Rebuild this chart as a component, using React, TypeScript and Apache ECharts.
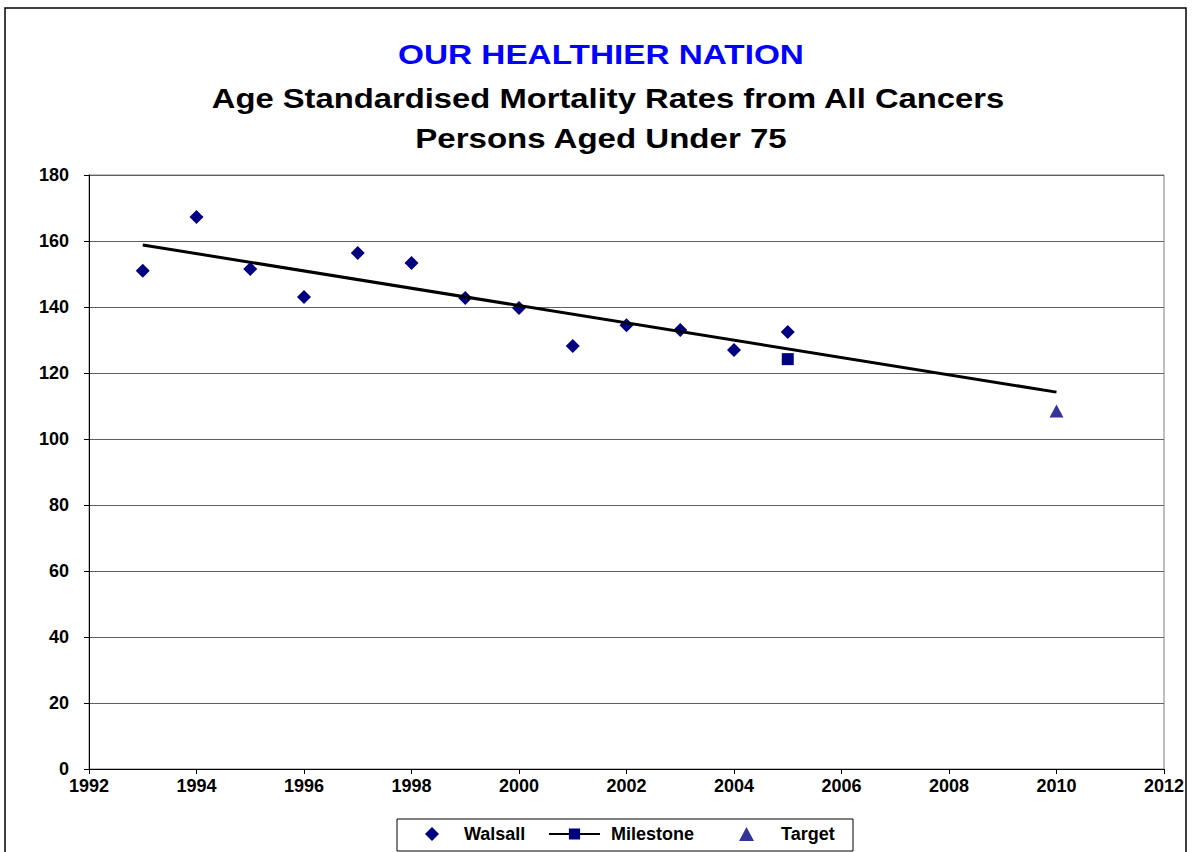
import React, { useEffect, useRef } from "react";
import * as echarts from "echarts";

const years = [1993, 1994, 1995, 1996, 1997, 1998, 1999, 2000, 2001, 2002, 2003, 2004, 2005];
const walsall = [151, 167.3, 151.5, 143, 156.4, 153.3, 142.7, 139.7, 128.2, 134.5, 133, 127, 132.4];
const milestoneYear = [2005];
const milestone = [124.2];
const targetYear = [2010];
const target = [108.5];
const trendYears = [1993, 2010];
const trendValues = [158.8, 114.2];

const titleLines = [
  "OUR HEALTHIER NATION",
  "Age Standardised Mortality Rates from All Cancers",
  "Persons Aged Under 75",
];

export default function App() {
  const ref = useRef<HTMLDivElement>(null);
  useEffect(() => {
    if (!ref.current) return;
    const chart = echarts.init(ref.current, null, { renderer: "svg" });
    const font = "Arial, 'Liberation Sans', sans-serif";
    const legendText = (padLeft: number) => ({
      fontFamily: font,
      fontWeight: "bold",
      fontSize: 18,
      lineHeight: 18,
      color: "#000",
      padding: [0, 0, 0, padLeft],
    });
    chart.setOption({
      animation: false,
      backgroundColor: "#ffffff",
      textStyle: { fontFamily: font },
      graphic: [
        {
          type: "rect",
          shape: { x: 5, y: 8, width: 1181, height: 860 },
          style: { fill: "none", stroke: "#000", lineWidth: 1.5 },
          silent: true,
        },
        {
          type: "rect",
          shape: { x: 397, y: 819, width: 456, height: 32 },
          style: { fill: "#fff", stroke: "#000", lineWidth: 1 },
          silent: true,
          z: -1,
        },
        {
          type: "text",
          x: 601,
          y: 54,
          scaleX: 1.19,
          style: {
            text: titleLines[0],
            fill: "#0000ff",
            font: `bold 28px ${font}`,
            textAlign: "center",
            textVerticalAlign: "middle",
          },
        },
        {
          type: "text",
          x: 608,
          y: 98,
          scaleX: 1.17,
          style: {
            text: titleLines[1],
            fill: "#000",
            font: `bold 28px ${font}`,
            textAlign: "center",
            textVerticalAlign: "middle",
          },
        },
        {
          type: "text",
          x: 601,
          y: 138,
          scaleX: 1.18,
          style: {
            text: titleLines[2],
            fill: "#000",
            font: `bold 28px ${font}`,
            textAlign: "center",
            textVerticalAlign: "middle",
          },
        },
      ],
      grid: {
        left: 89,
        top: 175,
        width: 1075,
        height: 594,
        show: true,
        borderColor: "#808080",
        borderWidth: 1,
        containLabel: false,
      },
      legend: [
        {
          left: 425,
          top: 825,
          padding: 0,
          itemWidth: 14,
          itemHeight: 14,
          textStyle: legendText(20),
          data: ["Walsall"],
        },
        {
          left: 548,
          top: 825,
          padding: 0,
          itemWidth: 51,
          itemHeight: 14,
          textStyle: legendText(6),
          data: ["Milestone"],
        },
        {
          left: 739,
          top: 825,
          padding: 0,
          itemWidth: 15,
          itemHeight: 14,
          textStyle: legendText(22),
          data: ["Target"],
        },
      ],
      xAxis: {
        type: "value",
        min: 1992,
        max: 2012,
        interval: 2,
        axisLine: { show: true, lineStyle: { color: "#000", width: 1 } },
        axisTick: { show: true, length: 5, lineStyle: { color: "#000" } },
        splitLine: { show: false },
        axisLabel: {
          formatter: (v: number) => String(v),
          fontFamily: font,
          fontWeight: "bold",
          fontSize: 18,
          color: "#000",
          margin: 8,
        },
      },
      yAxis: {
        type: "value",
        min: 0,
        max: 180,
        interval: 20,
        axisLine: { show: true, lineStyle: { color: "#000", width: 1 } },
        axisTick: { show: true, length: 5, lineStyle: { color: "#000" } },
        splitLine: { show: true, lineStyle: { color: "#606060", width: 1 } },
        axisLabel: {
          fontFamily: font,
          fontWeight: "bold",
          fontSize: 18,
          color: "#000",
          margin: 20,
        },
      },
      series: [
        {
          name: "Trend",
          type: "line",
          data: trendYears.map((y, i) => [y, trendValues[i]]),
          showSymbol: false,
          symbol: "none",
          lineStyle: { color: "#000", width: 3 },
          z: 3,
        },
        {
          name: "Walsall",
          type: "scatter",
          data: years.map((y, i) => [y, walsall[i]]),
          symbol: "diamond",
          symbolSize: 14,
          itemStyle: { color: "#000080", opacity: 1 },
          z: 2,
        },
        {
          name: "Milestone",
          type: "line",
          data: milestoneYear.map((y, i) => [y, milestone[i]]),
          symbol: "rect",
          symbolSize: 12,
          itemStyle: { color: "#000080", opacity: 1 },
          lineStyle: { color: "#000", width: 1 },
          z: 4,
        },
        {
          name: "Target",
          type: "scatter",
          data: targetYear.map((y, i) => [y, target[i]]),
          symbol: "triangle",
          symbolSize: [14, 13],
          itemStyle: { color: "#333399", opacity: 1 },
          z: 4,
        },
      ],
    });
    return () => chart.dispose();
  }, []);
  return (
    <div
      ref={ref}
      style={{ position: "absolute", left: 0, top: 0, width: 1194, height: 852 }}
    />
  );
}
